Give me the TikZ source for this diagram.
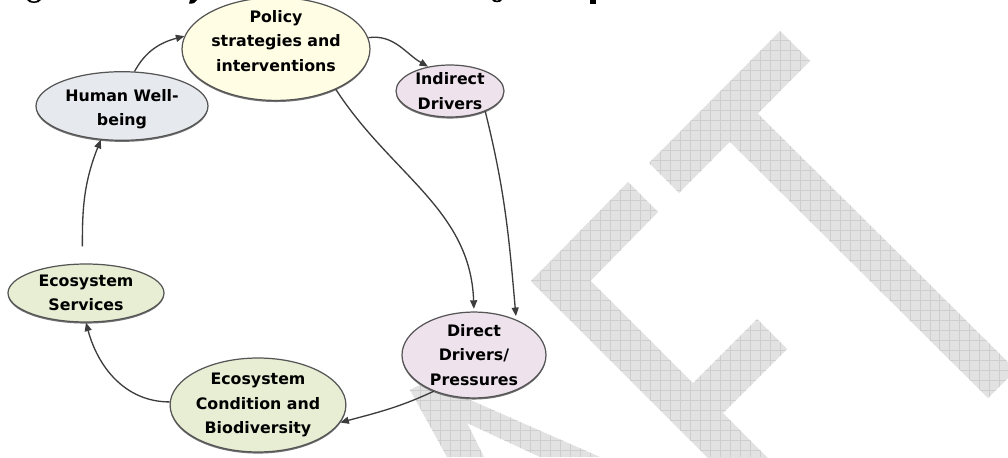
\documentclass[tikz,border=0pt]{standalone}
\usepackage{fontspec}
\setmainfont{DejaVu Sans}
\usetikzlibrary{shapes.geometric,arrows.meta,shadows}
\definecolor{polfill}{RGB}{255,253,228}
\definecolor{drvfill}{RGB}{238,226,236}
\definecolor{hwbfill}{RGB}{230,234,238}
\definecolor{ecofill}{RGB}{232,238,212}
\definecolor{edgec}{RGB}{85,85,85}
\definecolor{arrc}{RGB}{60,60,60}
\definecolor{wm}{RGB}{226,226,226}
\definecolor{wmgrid}{RGB}{206,206,206}
\newcommand\wmpoly[1]{\fill[wm] #1;\begin{scope}\clip #1;\draw[wmgrid,line width=0.35pt,step=0.2cm] (0,0) grid (1008,457);\end{scope}}
\newcommand\liftlines[2]{\raisebox{#1}[\height][\depth]{\begin{tabular}{@{}c@{}}#2\end{tabular}}}
\begin{document}
\begin{tikzpicture}[x=0.02cm,y=-0.02cm,
  ell/.style={ellipse,draw=edgec,line width=0.7pt,inner sep=0pt,align=center,
    font=\bfseries\fontsize{9}{13.8}\selectfont,
    drop shadow={shadow xshift=0pt,shadow yshift=-0.9pt,fill=black!55,opacity=1}},
  arr/.style={draw=arrc,line width=0.75pt,-{Triangle[length=0.17cm,width=0.14cm]}}]
\useasboundingbox (0,0) rectangle (1008,457);
\fill[white] (0,0) rectangle (1008,457);
% watermark
\wmpoly{(649,163) -- (780,31) -- (810,61) -- (679,193) -- cycle}
\wmpoly{(743,99) -- (1016,370) -- (988,398) -- (715,127) -- cycle}
\wmpoly{(628,182) -- (531,281) -- (561,311) -- (658,212) -- cycle}
\wmpoly{(561,251) -- (775,465) -- (745,495) -- (531,281) -- cycle}
\wmpoly{(757,319) -- (678,398) -- (708,428) -- (787,349) -- cycle}
\wmpoly{(410,390) -- (427,381) -- (600,457) -- (540,457) -- (467,423) -- (484,457) -- (447,457) -- cycle}
% title fragments (cut off)
\fill[black] (27,0) .. controls (29,4) and (39,4) .. (41,0) -- (38,0) .. controls (36,2) and (32,2) .. (30,0) -- cycle;
\fill[black] (190,0) -- (197,0) .. controls (196,3) and (193,4) .. (189,3.5) -- cycle;
\fill[black] (492,0) .. controls (493,3) and (501,3) .. (502,0) -- (499,0) .. controls (498,1) and (496,1) .. (495,0) -- cycle;
\fill[black] (590,0) rectangle (596,3.5);
% nodes
\node[ell,fill=polfill,minimum width=3.76cm,minimum height=1.76cm] (pol) at (276,49) {\liftlines{4pt}{Policy\\strategies and\\interventions}};
\node[ell,fill=drvfill,minimum width=2.16cm,minimum height=1.04cm] (ind) at (450,91) {Indirect\\Drivers};
\node[ell,fill=hwbfill,minimum width=3.44cm,minimum height=1.12cm] (hwb) at (122,106) {\liftlines{-1.5pt}{Human Well-\\being}};
\node[ell,fill=ecofill,minimum width=3.12cm,minimum height=1.16cm] (ess) at (86,293) {Ecosystem\\Services};
\node[ell,fill=ecofill,minimum width=3.32cm,minimum height=1.88cm] (ecb) at (258,405) {Ecosystem\\Condition and\\Biodiversity};
\node[ell,fill=drvfill,minimum width=2.88cm,minimum height=1.68cm] (dir) at (474,355) {Direct\\Drivers/\\Pressures};
% connectors
\draw[arr] (hwb.70) to[out=62,in=195] (pol.172);
\draw[arr] (pol.7) to[out=8,in=150] (ind.132);
\draw[arr,shorten >=1.5pt] (pol.-34) to[out=-57,in=92] (dir.north);
\draw[arr,shorten >=2pt] (ind.-30) to[out=-76,in=95] (dir.40);
\draw[arr] (dir.-138) to[out=205,in=15] (ecb.-12);
\draw[arr] (ecb.178) to[out=180,in=-75] (ess.-90);
\draw[arr,shorten <=0.34cm] (ess.97) to[out=90,in=-112] (hwb.-122);
\end{tikzpicture}
\end{document}
